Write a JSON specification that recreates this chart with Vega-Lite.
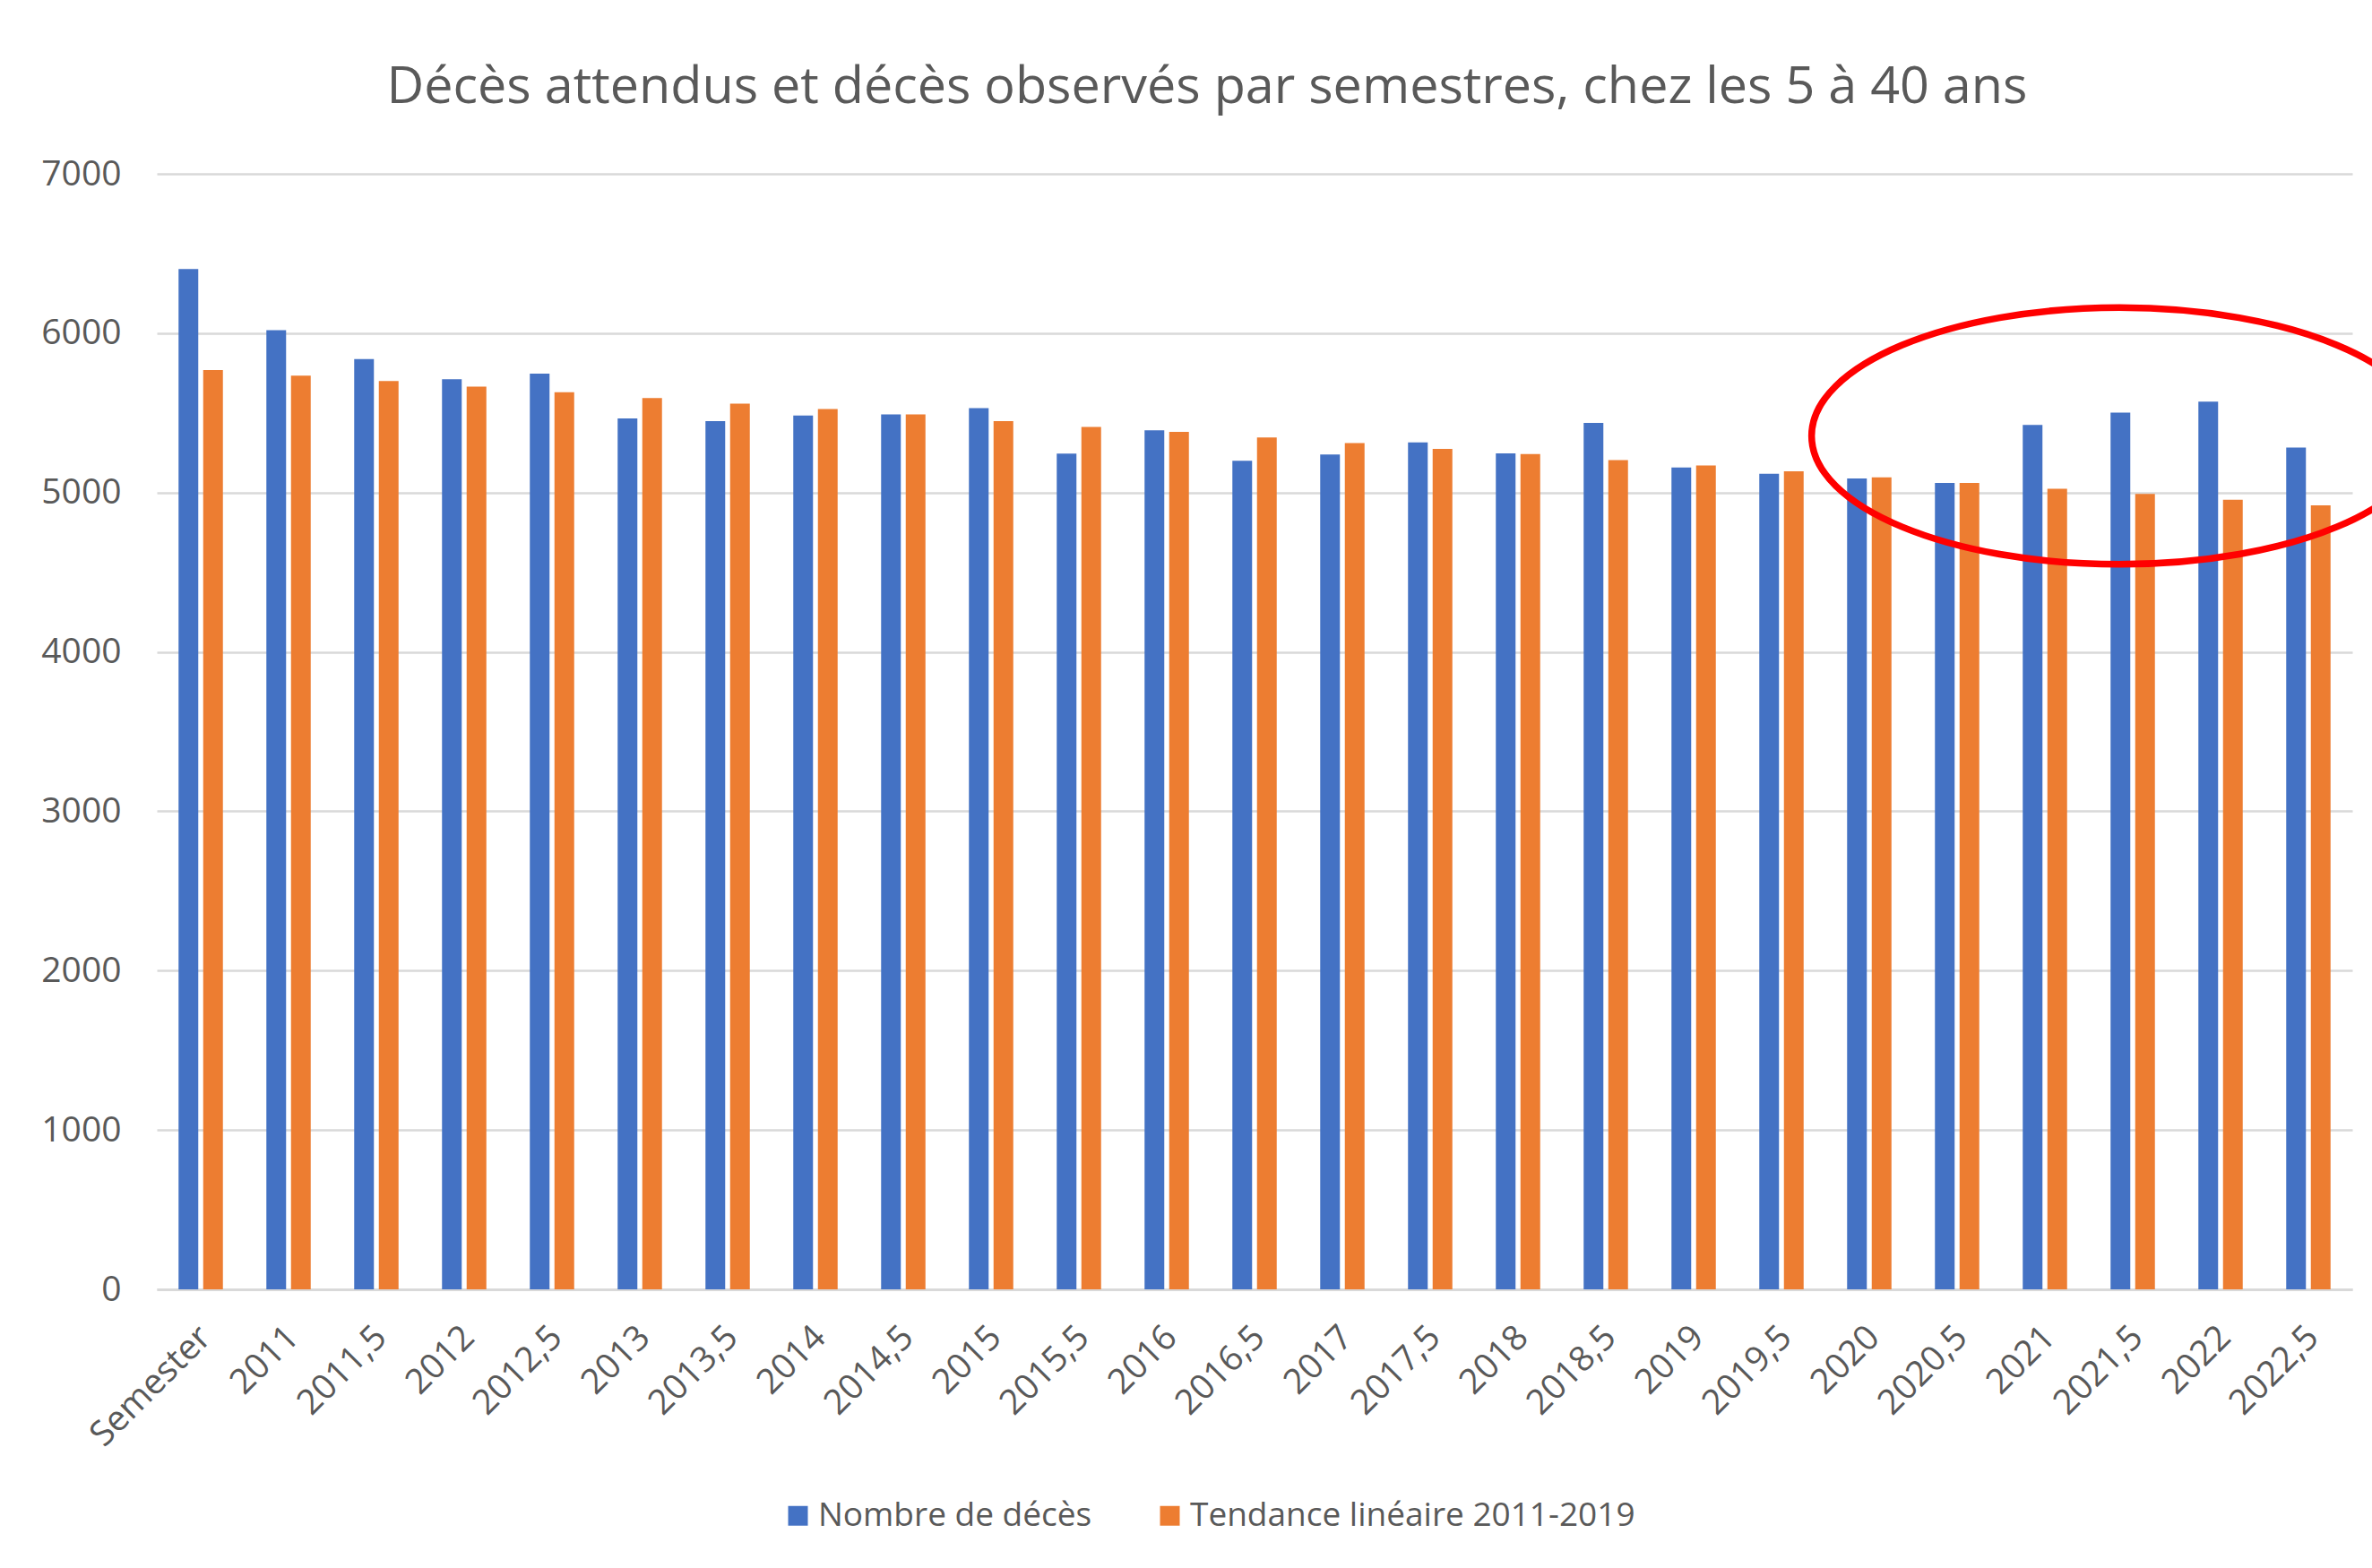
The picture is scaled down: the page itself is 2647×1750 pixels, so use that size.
{
  "$schema": "https://vega.github.io/schema/vega-lite/v6.json",
  "autosize": "none",
  "width": 2450,
  "height": 1245,
  "padding": {"left": 175, "top": 194, "right": 22, "bottom": 311},
  "background": "white",
  "title": {
    "text": "Décès attendus et décès observés par semestres, chez les 5 à 40 ans",
    "font": "Open Sans",
    "fontSize": 57.5,
    "fontWeight": "normal",
    "color": "#595959",
    "anchor": "middle",
    "dx": -53,
    "baseline": "alphabetic",
    "offset": 3
  },
  "config": {
    "view": {"stroke": null},
    "axis": {"labelFont": "Open Sans", "labelFontSize": 39, "labelColor": "#595959", "titleFont": "Open Sans"},
    "legend": {"labelFont": "Open Sans", "labelFontSize": 37, "labelColor": "#595959"}
  },
  "datasets": {
    "bars": [
      {"semestre": "Semester", "serie": "Nombre de décès", "deces": 6403},
      {"semestre": "Semester", "serie": "Tendance linéaire 2011-2019", "deces": 5769},
      {"semestre": "2011", "serie": "Nombre de décès", "deces": 6019},
      {"semestre": "2011", "serie": "Tendance linéaire 2011-2019", "deces": 5733},
      {"semestre": "2011,5", "serie": "Nombre de décès", "deces": 5838},
      {"semestre": "2011,5", "serie": "Tendance linéaire 2011-2019", "deces": 5700},
      {"semestre": "2012", "serie": "Nombre de décès", "deces": 5711},
      {"semestre": "2012", "serie": "Tendance linéaire 2011-2019", "deces": 5664},
      {"semestre": "2012,5", "serie": "Nombre de décès", "deces": 5746},
      {"semestre": "2012,5", "serie": "Tendance linéaire 2011-2019", "deces": 5629},
      {"semestre": "2013", "serie": "Nombre de décès", "deces": 5465},
      {"semestre": "2013", "serie": "Tendance linéaire 2011-2019", "deces": 5593},
      {"semestre": "2013,5", "serie": "Nombre de décès", "deces": 5448},
      {"semestre": "2013,5", "serie": "Tendance linéaire 2011-2019", "deces": 5558},
      {"semestre": "2014", "serie": "Nombre de décès", "deces": 5483},
      {"semestre": "2014", "serie": "Tendance linéaire 2011-2019", "deces": 5524},
      {"semestre": "2014,5", "serie": "Nombre de décès", "deces": 5491},
      {"semestre": "2014,5", "serie": "Tendance linéaire 2011-2019", "deces": 5491},
      {"semestre": "2015", "serie": "Nombre de décès", "deces": 5530},
      {"semestre": "2015", "serie": "Tendance linéaire 2011-2019", "deces": 5448},
      {"semestre": "2015,5", "serie": "Nombre de décès", "deces": 5244},
      {"semestre": "2015,5", "serie": "Tendance linéaire 2011-2019", "deces": 5412},
      {"semestre": "2016", "serie": "Nombre de décès", "deces": 5390},
      {"semestre": "2016", "serie": "Tendance linéaire 2011-2019", "deces": 5381},
      {"semestre": "2016,5", "serie": "Nombre de décès", "deces": 5200},
      {"semestre": "2016,5", "serie": "Tendance linéaire 2011-2019", "deces": 5345},
      {"semestre": "2017", "serie": "Nombre de décès", "deces": 5239},
      {"semestre": "2017", "serie": "Tendance linéaire 2011-2019", "deces": 5310},
      {"semestre": "2017,5", "serie": "Nombre de décès", "deces": 5315},
      {"semestre": "2017,5", "serie": "Tendance linéaire 2011-2019", "deces": 5274},
      {"semestre": "2018", "serie": "Nombre de décès", "deces": 5246},
      {"semestre": "2018", "serie": "Tendance linéaire 2011-2019", "deces": 5241},
      {"semestre": "2018,5", "serie": "Nombre de décès", "deces": 5437},
      {"semestre": "2018,5", "serie": "Tendance linéaire 2011-2019", "deces": 5203},
      {"semestre": "2019", "serie": "Nombre de décès", "deces": 5157},
      {"semestre": "2019", "serie": "Tendance linéaire 2011-2019", "deces": 5170},
      {"semestre": "2019,5", "serie": "Nombre de décès", "deces": 5118},
      {"semestre": "2019,5", "serie": "Tendance linéaire 2011-2019", "deces": 5134},
      {"semestre": "2020", "serie": "Nombre de décès", "deces": 5088},
      {"semestre": "2020", "serie": "Tendance linéaire 2011-2019", "deces": 5095},
      {"semestre": "2020,5", "serie": "Nombre de décès", "deces": 5060},
      {"semestre": "2020,5", "serie": "Tendance linéaire 2011-2019", "deces": 5060},
      {"semestre": "2021", "serie": "Nombre de décès", "deces": 5425},
      {"semestre": "2021", "serie": "Tendance linéaire 2011-2019", "deces": 5024},
      {"semestre": "2021,5", "serie": "Nombre de décès", "deces": 5502},
      {"semestre": "2021,5", "serie": "Tendance linéaire 2011-2019", "deces": 4991},
      {"semestre": "2022", "serie": "Nombre de décès", "deces": 5571},
      {"semestre": "2022", "serie": "Tendance linéaire 2011-2019", "deces": 4955},
      {"semestre": "2022,5", "serie": "Nombre de décès", "deces": 5282},
      {"semestre": "2022,5", "serie": "Tendance linéaire 2011-2019", "deces": 4920}
    ],
    "annotation": [
      {"semestre": "2021,5", "deces": 5355}
    ]
  },
  "layer": [
    {
      "data": {"name": "bars"},
      "mark": {"type": "bar"},
      "encoding": {
        "x": {
          "field": "semestre", "type": "nominal", "sort": null,
          "scale": {"paddingInner": 0.495, "paddingOuter": 0.2475},
          "axis": {
            "title": null, "labelAngle": -45, "labelAlign": "right", "labelBaseline": "middle",
            "labelPadding": 47, "labelOffset": 5, "ticks": false, "tickSize": 0,
            "domain": true, "domainColor": "#d9d9d9", "domainWidth": 3, "grid": false
          }
        },
        "xOffset": {
          "field": "serie", "type": "nominal",
          "scale": {"paddingInner": 0.2, "paddingOuter": 0}
        },
        "y": {
          "field": "deces", "type": "quantitative",
          "scale": {"domain": [0, 7000], "nice": false},
          "axis": {
            "title": null, "values": [0, 1000, 2000, 3000, 4000, 5000, 6000, 7000], "format": "d",
            "domain": false, "ticks": false, "tickSize": 0, "labelPadding": 40,
            "grid": true, "gridColor": "#d9d9d9", "gridWidth": 2.5
          }
        },
        "color": {
          "field": "serie", "type": "nominal",
          "scale": {"domain": ["Nombre de décès", "Tendance linéaire 2011-2019"], "range": ["#4472C4", "#ED7D31"]},
          "legend": {
            "title": null, "orient": "none", "direction": "horizontal",
            "legendX": 697, "legendY": 1479,
            "symbolType": "square", "symbolSize": 484, "symbolStrokeWidth": 0,
            "labelOffset": 4, "columnPadding": 68, "padding": 0, "labelLimit": 0
          }
        }
      }
    },
    {
      "data": {"name": "annotation"},
      "mark": {
        "type": "point",
        "shape": "M -1 0 C -1 -0.2303 -0.5523 -0.417 0 -0.417 C 0.5523 -0.417 1 -0.2303 1 0 C 1 0.2303 0.5523 0.417 0 0.417 C -0.5523 0.417 -1 0.2303 -1 0 Z",
        "filled": false,
        "stroke": "#FF0000",
        "strokeWidth": 7.5,
        "opacity": 1,
        "size": 472000,
        "clip": false
      },
      "encoding": {
        "x": {"field": "semestre", "type": "nominal", "sort": null, "bandPosition": 0.2},
        "y": {"field": "deces", "type": "quantitative"}
      }
    }
  ]
}
